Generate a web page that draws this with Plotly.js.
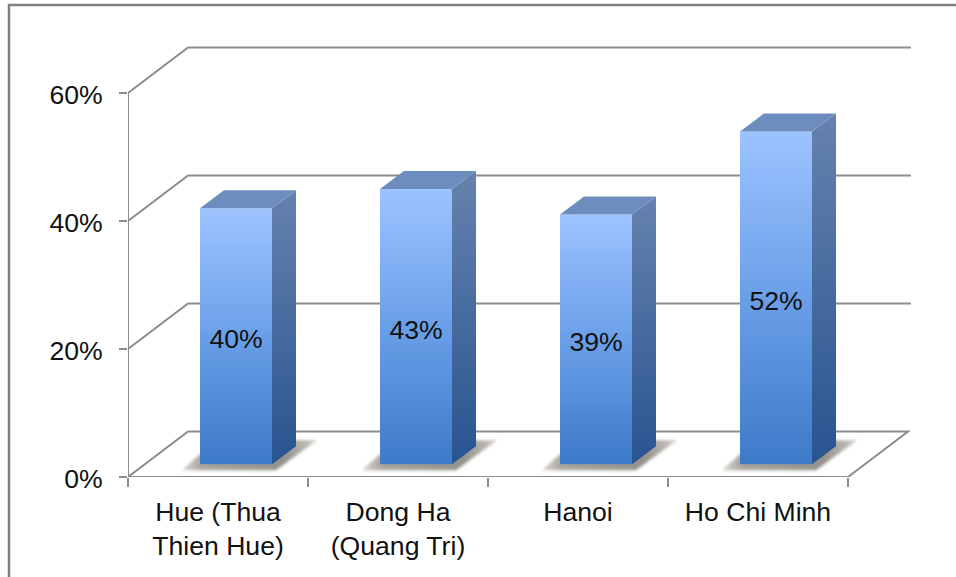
<!DOCTYPE html>
<html><head><meta charset="utf-8">
<script src="https://cdn.plot.ly/plotly-3.0.1.min.js"></script>
<style>html,body{margin:0;padding:0;background:#fff}</style></head>
<body><div id="chart" style="width:956px;height:577px"></div>
<script>
const categories = ["Hue (Thua<br>Thien Hue)", "Dong Ha<br>(Quang Tri)", "Hanoi", "Ho Chi Minh"];
const values = [40, 43, 39, 52];
const valueLabels = ["40%", "43%", "39%", "52%"];
const yTicks = [0, 20, 40, 60];
const yTickLabels = ["0%", "20%", "40%", "60%"];

const W = 956, H = 577, L = 128, R = 911, T = 46, B = 477;
const pxX = 180, pxY = 6.4;
const wallDx = 60 / pxX, wallDy = 45.5 / pxY;
const barDx = 24 / pxX, barDy = 18 / pxY;
const base = 2, barW = 0.4, barOff = 0.6;
const xMax = (R - L) / pxX, yMax = (B - T) / pxY;
const centers = categories.map((_, i) => i + barOff);
const lineCol = "#8c8c8c";
const fontSize = 26.6;

const pathOf = pts => "M" + pts.map(p => p[0] + "," + p[1]).join("L");
const shapes = [];
values.forEach((v, i) => {
  const l = centers[i] - barW / 2, r = centers[i] + barW / 2;
  shapes.push({type: "path", xref: "x", yref: "y", layer: "below",
    path: pathOf([[l - 18 / pxX, base - 6 / pxY], [r + 4 / pxX, base - 6 / pxY],
                  [r + 45 / pxX, base + 24 / pxY], [r + 20 / pxX, base + 24 / pxY], [l, base + 10 / pxY]]) + "Z",
    fillcolor: "#a8a49c", line: {width: 0}});
});
yTicks.filter(t => t > 0).forEach(t => {
  shapes.push({type: "path", xref: "x", yref: "y", layer: "below",
    path: pathOf([[0, t], [wallDx, t + wallDy], [xMax, t + wallDy]]),
    line: {color: lineCol, width: 2}});
});
shapes.push({type: "path", xref: "x", yref: "y", layer: "below",
  path: pathOf([[0, 0], [wallDx, wallDy], [4 + wallDx, wallDy], [4, 0]]),
  line: {color: lineCol, width: 2}});
shapes.push({type: "path", xref: "x", yref: "y", layer: "below",
  path: pathOf([[0, 0], [4, 0]]), line: {color: lineCol, width: 2}});
shapes.push({type: "path", xref: "x", yref: "y", layer: "below",
  path: pathOf([[0, 0], [0, 60]]), line: {color: lineCol, width: 2}});
shapes.push({type: "path", xref: "paper", yref: "paper", layer: "below",
  path: pathOf([[(9 - L) / (R - L), (B - 577) / (B - T)], [(9 - L) / (R - L), (B - 5) / (B - T)], [(956 - L) / (R - L), (B - 5) / (B - T)]]),
  line: {color: "#808080", width: 2.5}});

const traces = [{
  type: "bar", x: centers, y: values, base: base, width: barW,
  marker: {color: "#5f94e0", line: {width: 0}}, hoverinfo: "skip", showlegend: false
}];
values.forEach((v, i) => {
  const r = centers[i] + barW / 2, l = centers[i] - barW / 2, t = base + v;
  traces.push({type: "scatter", mode: "lines", fill: "toself", hoverinfo: "skip", showlegend: false,
    x: [r, r + barDx, r + barDx, r, r], y: [base, base + barDy, t + barDy, t, base],
    line: {width: 0}, fillcolor: "#3f6496", name: "side"});
  traces.push({type: "scatter", mode: "lines", fill: "toself", hoverinfo: "skip", showlegend: false,
    x: [l, l + barDx, r + barDx, r, l], y: [t, t + barDy, t + barDy, t, t],
    line: {width: 0}, fillcolor: "#6d8dbf", name: "top"});
});
traces.push({type: "scatter", mode: "text", x: centers, y: values.map(v => base + v / 2 - 0.85),
  text: valueLabels, textposition: "middle center", textfont: {family: "Liberation Sans", size: fontSize, color: "#111"},
  hoverinfo: "skip", showlegend: false, cliponaxis: false});

const layout = {
  width: W, height: H, autosize: false,
  margin: {l: L, r: W - R, t: T, b: H - B, pad: 0},
  paper_bgcolor: "#fff", plot_bgcolor: "rgba(0,0,0,0)", showlegend: false,
  font: {family: "Liberation Sans", size: fontSize, color: "#111"},
  shapes: shapes,
  xaxis: {range: [0, xMax], tickmode: "array", tickvals: categories.map((_, i) => i + 0.5), ticktext: categories,
    ticks: "", ticklen: 0, showgrid: false, zeroline: false, showline: false, tickangle: 0, ticklabelstandoff: 16,
    minor: {tickmode: "array", tickvals: [0, 1, 2, 3, 4], ticks: "outside", ticklen: 9, tickwidth: 2, tickcolor: lineCol, showgrid: false}},
  yaxis: {range: [0, yMax], tickmode: "array", tickvals: yTicks, ticktext: yTickLabels,
    ticks: "outside", ticklen: 8, tickwidth: 2, tickcolor: lineCol, showgrid: false, zeroline: false, showline: false, ticklabelstandoff: 11, ticklabelshift: 2}
};

Plotly.newPlot("chart", traces, layout, {displayModeBar: false, staticPlot: true}).then(gd => {
  const NS = "http://www.w3.org/2000/svg";
  const svg = gd.querySelector("svg.main-svg");
  const defs = document.createElementNS(NS, "defs");
  const grad = (id, stops, x2, y2) => {
    const g = document.createElementNS(NS, "linearGradient");
    g.setAttribute("id", id); g.setAttribute("x1", "0"); g.setAttribute("y1", "0");
    g.setAttribute("x2", x2 || "0"); g.setAttribute("y2", y2 === undefined ? "1" : y2);
    stops.forEach(([o, c]) => { const s = document.createElementNS(NS, "stop");
      s.setAttribute("offset", o); s.setAttribute("stop-color", c); g.appendChild(s); });
    defs.appendChild(g);
  };
  grad("gFront", [[0, "#9dc3ff"], [0.5, "#6a9fe8"], [1, "#3d7ac8"]]);
  grad("gSide", [[0, "#6682ae"], [1, "#285490"]]);
  grad("gShadow", [[0, "#d8d6d0"], [0.14, "#aaa69e"], [0.75, "#94908a"], [1, "#cfccc6"]], "1", "0");
  const f = document.createElementNS(NS, "filter");
  f.setAttribute("id", "soft");
  f.setAttribute("x", "-20%"); f.setAttribute("y", "-30%"); f.setAttribute("width", "140%"); f.setAttribute("height", "160%");
  const b = document.createElementNS(NS, "feGaussianBlur"); b.setAttribute("stdDeviation", "1.4");
  f.appendChild(b); defs.appendChild(f);
  svg.insertBefore(defs, svg.firstChild);
  gd.querySelectorAll(".barlayer .point path").forEach(p => { p.style.fill = "url(#gFront)"; });
  gd.querySelectorAll(".scatterlayer .trace").forEach(tr => {
    const d = tr.__data__ && tr.__data__[0] && tr.__data__[0].trace;
    if (d && d.name === "side") { const p = tr.querySelector(".js-fill"); if (p) p.style.fill = "url(#gSide)"; }
  });
  values.forEach((_, i) => {
    const s = gd.querySelector('.shapelayer path[data-index="' + i + '"]');
    if (s) { s.style.fill = "url(#gShadow)"; s.style.fillOpacity = 1; s.setAttribute("filter", "url(#soft)"); }
  });
});
</script></body></html>
